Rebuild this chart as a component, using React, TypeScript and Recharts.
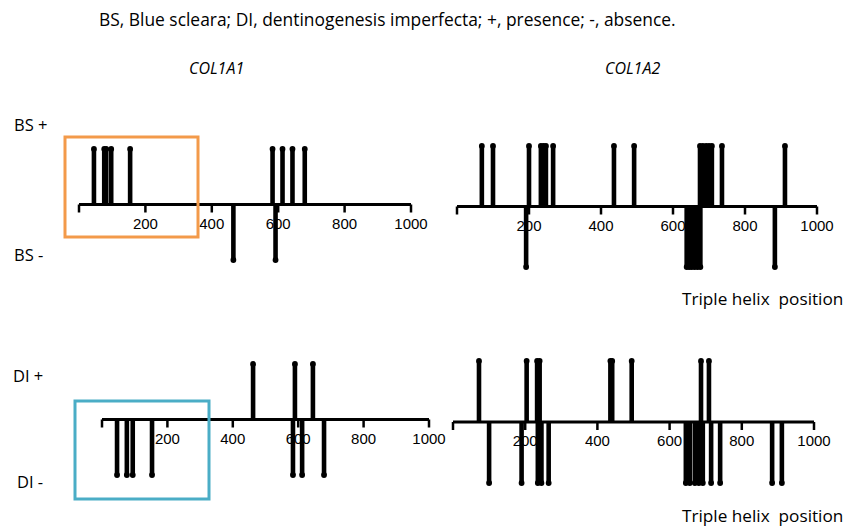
import React from "react";
import { ComposedChart, Line, XAxis, YAxis, ReferenceLine, ReferenceDot } from "recharts";

// triple helix positions of each variant (+ = trait present, - = absent)
const BS_COL1A1_UP = [45, 76, 82, 97, 154, 583, 613, 643, 680];
const BS_COL1A1_DOWN = [465, 592];
const BS_COL1A2_UP = [69, 100, 200, 233, 240, 247, 267, 436, 492, 675, 683, 692, 700, 708, 736, 911];
const BS_COL1A2_DOWN = [192, 638, 645, 652, 660, 668, 676, 883];
const DI_COL1A1_UP = [462, 590, 645];
const DI_COL1A1_DOWN = [46, 76, 94, 153, 584, 612, 679];
const DI_COL1A2_UP = [72, 204, 233, 240, 436, 441, 495, 687, 709];
const DI_COL1A2_DOWN = [100, 190, 235, 245, 265, 645, 656, 670, 681, 692, 715, 740, 884, 911];

const TICKS = [0, 200, 400, 600, 800, 1000];

const M = { top: 10, right: 30, bottom: 30, left: 10 };
const TEXT_FONT = "'Open Sans', sans-serif";
const AXIS_FONT = "'Liberation Sans', Arial, sans-serif";

function EndDot(props: any) {
  const { cx, cy, payload, index } = props;
  if (!payload || payload.y === 0) return <g key={`d-${index}`} />;
  return <circle key={`d-${index}`} cx={cx} cy={cy} r={2.9} fill="#000" />;
}

function TickMark(t: number) {
  return (props: any) => {
    const { cx, cy } = props;
    return (
      <g>
        <line x1={cx} y1={cy} x2={cx} y2={cy + 8} stroke="#000" strokeWidth={2.5} />
        {t > 0 && (
          <text x={cx} y={cy + 24} textAnchor="middle" fontSize={15} fontFamily={AXIS_FONT} fill="#000">
            {t}
          </text>
        )}
      </g>
    );
  };
}

function Panel({ up, down, left, top, plotW, plotH }: {
  up: number[]; down: number[]; left: number; top: number; plotW: number; plotH: number;
}) {
  const stems = [
    ...up.map((v) => ({ v, s: 1 })),
    ...down.map((v) => ({ v, s: -1 })),
  ];
  return (
    <div style={{ position: "absolute", left: left - M.left, top: top - M.top }}>
      <ComposedChart
        width={plotW + M.left + M.right}
        height={plotH + M.top + M.bottom}
        margin={M}
      >
        <XAxis type="number" dataKey="x" domain={[0, 1000]} hide />
        <YAxis type="number" domain={[-1, 1]} hide />
        <ReferenceLine y={0} stroke="#000" strokeWidth={3} ifOverflow="visible" />
        {TICKS.map((t) => (
          <ReferenceDot key={t} x={t} y={0} ifOverflow="visible" shape={TickMark(t)} />
        ))}
        {stems.map((st, i) => (
          <Line
            key={i}
            data={[{ x: st.v, y: 0 }, { x: st.v, y: st.s }]}
            dataKey="y"
            stroke="#000"
            strokeWidth={4.6}
            dot={EndDot}
            activeDot={false}
            isAnimationActive={false}
          />
        ))}
      </ComposedChart>
    </div>
  );
}

const label = { fontFamily: TEXT_FONT, fill: "#000", whiteSpace: "pre" as const };

export default function App() {
  return (
    <div style={{ position: "absolute", left: 0, top: 0, width: 856, height: 526, background: "#fff" }}>
      <Panel up={BS_COL1A1_UP} down={BS_COL1A1_DOWN} left={79} top={149} plotW={332} plotH={111} />
      <Panel up={BS_COL1A2_UP} down={BS_COL1A2_DOWN} left={457} top={146} plotW={360} plotH={121} />
      <Panel up={DI_COL1A1_UP} down={DI_COL1A1_DOWN} left={102} top={364} plotW={327} plotH={111} />
      <Panel up={DI_COL1A2_UP} down={DI_COL1A2_DOWN} left={453} top={361} plotW={361} plotH={122} />
      <svg width={856} height={526} style={{ position: "absolute", left: 0, top: 0, pointerEvents: "none" }}>
        <text x={99} y={26} fontSize={17.4} style={label}>
          BS, Blue scleara; DI, dentinogenesis imperfecta; +, presence; -, absence.
        </text>
        <text x={189} y={74} fontSize={16} fontStyle="italic" style={label}>COL1A1</text>
        <text x={605} y={74} fontSize={16} fontStyle="italic" style={label}>COL1A2</text>
        <text x={14} y={131} fontSize={16.5} style={label}>BS +</text>
        <text x={14} y={261} fontSize={16.5} style={label}>BS -</text>
        <text x={13} y={382} fontSize={16.5} style={label}>DI +</text>
        <text x={17} y={488} fontSize={16.5} style={label}>DI -</text>
        <text x={682} y={305} fontSize={17.2} style={label}>Triple helix  position</text>
        <text x={682} y={522} fontSize={17.2} style={label}>Triple helix  position</text>
        <rect x={65} y={137} width={133} height={100} fill="none" stroke="#F39A4A" strokeWidth={3} />
        <rect x={75} y={401} width={134} height={98} fill="none" stroke="#4AADC6" strokeWidth={3} />
      </svg>
    </div>
  );
}
